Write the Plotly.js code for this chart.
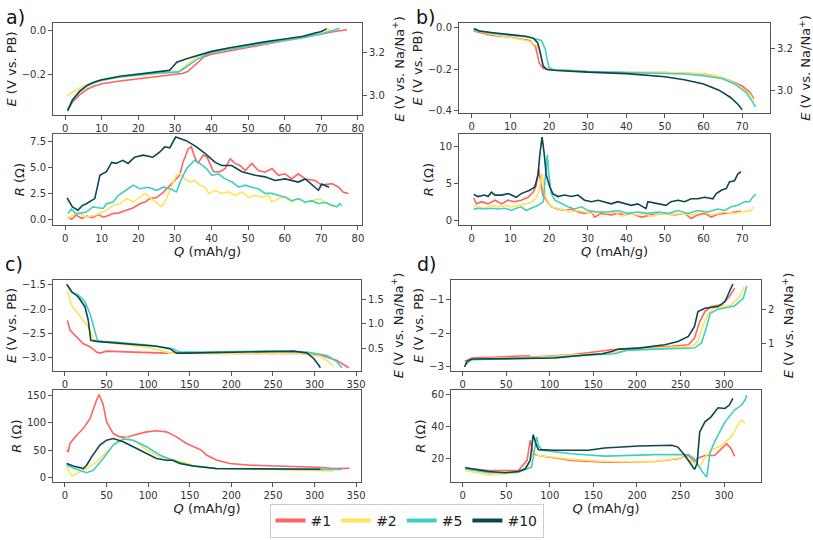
<!DOCTYPE html>
<html>
<head>
<meta charset="utf-8">
<script src="https://cdn.plot.ly/plotly-3.0.1.min.js"></script>
<style>html,body{margin:0;padding:0;background:#fff;}#chart{width:813px;height:540px;}</style>
</head>
<body>
<div id="chart"></div>
<script>
// ---------- data ----------
const seriesNames = ['#1', '#2', '#5', '#10'];
const seriesColors = ['#ff6361', '#ffe35a', '#3fcfc2', '#0c4650'];
const naOffset = 3.3;

// panel a, top: E vs PB
const aE_Q1 = [0.7,2,4,6,8,10,15,20,25,30,32,33.5,35,36.5,38,40,45,50,55,60,65,70,74,77];
const aE_1  = [-0.365,-0.33,-0.295,-0.27,-0.255,-0.245,-0.232,-0.222,-0.213,-0.202,-0.197,-0.188,-0.165,-0.14,-0.12,-0.108,-0.093,-0.078,-0.063,-0.048,-0.033,-0.015,-0.002,0.005];
const aE_Q2 = [0.5,3,5,8,10,15,20,28,31,33,36,40,45,50,55,60,65,70,72.5];
const aE_2  = [-0.3,-0.275,-0.255,-0.237,-0.227,-0.213,-0.205,-0.195,-0.19,-0.16,-0.12,-0.098,-0.082,-0.07,-0.058,-0.045,-0.033,-0.013,0.008];
const aE_Q5 = [0.7,2,4,6,8,10,15,20,25,29,31,32,34,36,38,40,45,50,55,60,65,70,73,75];
const aE_5  = [-0.365,-0.318,-0.278,-0.255,-0.24,-0.23,-0.213,-0.204,-0.196,-0.192,-0.19,-0.18,-0.155,-0.132,-0.115,-0.1,-0.085,-0.07,-0.057,-0.045,-0.032,-0.015,0.0,0.012];
const aE_Q10 = [0.7,2,4,6,8,10,15,20,25,28.5,29.5,30.5,33,36,40,45,50,55,60,65,68,70,71.5];
const aE_10  = [-0.37,-0.32,-0.28,-0.252,-0.237,-0.226,-0.21,-0.2,-0.19,-0.183,-0.165,-0.145,-0.13,-0.115,-0.095,-0.078,-0.063,-0.05,-0.038,-0.025,-0.012,-0.003,0.01];

// panel a, bottom: R
const aR_Q1 = [0.8,1.8,3,4.5,6,7.5,9,10.5,12,13,14.5,16.8,18.5,20.4,22,23.1,25,26.8,28.1,29.5,31.3,32.2,33.6,34.5,35.4,36.3,37.7,38.8,40.5,42.3,43.7,45.1,46.4,47.8,49.2,51,52.8,54.6,56.5,58.3,60.1,61.9,63.7,65.6,68.3,70.1,72.9,74.7,76,77.4];
const aR_1  = [0.2,0.0,0.4,0.1,0.3,0.15,0.45,0.2,0.4,0.55,0.6,0.87,1.1,1.5,1.7,2.0,2.1,2.6,3.1,3.6,4.25,5.5,6.8,7.0,6.0,5.4,6.2,6.0,4.6,4.6,4.9,5.85,5.4,5.2,4.7,5.4,4.7,4.55,4.9,4.25,4.4,3.9,4.4,3.9,3.75,3.3,3.45,3.1,2.6,2.5];
const aR_Q2 = [0.5,2,3.6,5.4,8.2,11.3,13.1,14.9,16.8,18.6,20.4,21.8,23.6,25.4,26.4,27.7,29,30.4,31.3,32.7,34.1,35.4,36.8,38.2,39.2,41,42.8,44.6,46.4,48.3,50.1,51.9,53.7,55.5,56.5,58.3,60.1,61.9,63.7,65.6,67.4,69.6,71.5,73.3];
const aR_2  = [0.05,0.4,0.7,0.2,0.4,0.87,1.35,1.5,2.0,1.67,2.15,2.5,2.0,1.5,1.2,2.0,3.1,4.25,4.4,3.9,3.6,3.75,3.3,3.1,2.5,2.8,2.5,2.65,2.3,2.65,2.15,2.3,2.15,2.3,1.67,2.0,2.15,1.67,2.0,1.67,1.8,2.0,1.5,1.2];
const aR_Q5 = [0.8,1.7,3,5.8,7.6,10.4,11.3,13.1,14.5,15.8,17.2,18.6,20.4,22.7,25,26.8,28.6,30.4,31.8,33.2,34.5,35.4,36.8,38.6,40.1,41.9,43.7,45.6,47.4,49.2,51,52.8,54.6,56.5,58.3,60.1,61.9,63.7,65.6,67.4,69.2,71,72.9,74.2,75.1,75.5];
const aR_5  = [0.55,1.0,0.5,0.7,1.2,1.05,1.5,1.67,2.3,2.65,2.95,3.3,2.95,3.1,2.8,3.1,2.95,2.65,3.9,4.9,5.4,5.7,5.4,4.9,4.25,4.4,3.9,3.6,3.1,3.3,3.1,2.95,2.5,2.5,2.3,2.15,1.8,2.0,1.65,1.8,1.5,1.65,1.35,1.2,1.5,1.3];
const aR_Q10 = [0.55,2,3.5,4.6,5.8,8.1,9,9.5,11.3,12.7,13.9,15.8,17.2,19,21.3,24,25.9,27.2,28.6,30.2,33.1,35.9,38.3,41,42.8,45.5,48.3,51.9,54.6,57.4,60.1,63.7,65.6,67.4,69.2,70.1,72.1];
const aR_10  = [2.06,1.2,0.87,1.3,1.5,2.0,3.4,4.25,4.6,5.5,5.4,5.7,5.4,6.0,6.2,6.0,6.5,7.0,6.9,7.95,7.6,7.0,6.35,5.5,5.2,5.2,4.6,4.25,4.1,3.75,3.9,3.6,3.9,3.3,2.8,3.4,3.1];

// panel b, top: E vs PB
const bE_Q1 = [0.5,5,10,15,16.5,17,17.5,18.5,20,30,40,50,60,64,67,70,72,73];
const bE_1  = [-0.015,-0.035,-0.045,-0.06,-0.09,-0.13,-0.17,-0.195,-0.2,-0.21,-0.215,-0.215,-0.222,-0.235,-0.255,-0.28,-0.31,-0.34];
const bE_Q2 = [0.5,5,10,15,17,18,18.5,19.5,30,40,50,60,64,67,70,72,73];
const bE_2  = [-0.01,-0.03,-0.045,-0.065,-0.09,-0.14,-0.18,-0.2,-0.21,-0.215,-0.215,-0.22,-0.235,-0.255,-0.29,-0.32,-0.35];
const bE_Q5 = [0.5,5,10,15,18,19,19.5,20,21,30,40,50,55,60,65,68,71,73.5];
const bE_5  = [-0.01,-0.025,-0.035,-0.045,-0.06,-0.1,-0.15,-0.19,-0.2,-0.21,-0.215,-0.22,-0.222,-0.23,-0.245,-0.27,-0.31,-0.38];
const bE_Q10 = [0.5,2,5,10,14,16,17,17.5,18,18.5,19.5,22,30,40,50,55,60,64,67,69,70];
const bE_10  = [-0.003,-0.015,-0.022,-0.03,-0.04,-0.05,-0.07,-0.1,-0.15,-0.185,-0.2,-0.205,-0.213,-0.22,-0.235,-0.25,-0.27,-0.3,-0.335,-0.37,-0.395];

// panel b, bottom: R
const bR_Q1 = [0.5,1.2,2.5,4.2,6,7.7,9.4,11.1,12.8,14.6,15.9,16.7,17.3,17.8,18.4,19.3,20.6,22.3,24,25.8,27.5,29.2,31,31.8,33.5,36.1,37.8,39.6,41.3,43.9,46.5,49.9,52.5,55.1,56.8,58.5,60.3,62,63.7,65.4,68,69.7];
const bR_1  = [3.0,2.2,2.5,2.2,2.7,2.2,2.7,2.5,2.7,3.1,3.8,4.7,7.0,5.2,3.4,2.7,1.8,1.5,1.3,1.5,1.1,0.9,1.1,0.4,0.9,0.7,0.9,0.7,0.9,0.4,0.7,0.9,0.7,0.9,0.2,0.7,0.9,0.4,0.8,0.9,1.1,1.2];
const bR_Q2 = [0.5,1.6,3.3,5.1,6.9,8.6,10.3,12,13.7,15.4,16.7,17.6,18.2,18.7,19.3,20.6,22.3,24,25.8,27.5,29.2,31,33.5,35.2,37,38.7,40.4,43,44.7,46.5,49.1,51.6,54.2,56.8,58.5,60.3,62,63.7,65.4,68,70.6,72.3,73];
const bR_2  = [1.9,1.8,1.6,2.0,1.8,2.0,1.8,2.0,2.2,2.4,3.0,4.3,6.3,4.5,2.9,1.8,1.6,1.3,1.1,1.3,1.1,0.9,1.1,0.9,1.1,0.5,0.9,0.7,0.9,0.5,0.9,0.7,0.9,0.7,0.9,1.1,0.7,0.9,1.1,0.9,1.1,1.3,1.8];
const bR_Q5 = [0.5,1.6,3.3,5.1,6.9,8.6,10.3,11.5,12.8,14.1,15.4,17.2,18.5,19,19.55,19.9,20.6,21.5,23.2,24.9,26.6,28.4,30.1,32.7,35.2,37.8,40.4,43,45.6,48.2,50.8,53.4,56,58.5,61.1,63.7,65.4,67.2,68.9,70.6,71.9,72.7,73.5];
const bR_5  = [1.45,1.6,1.5,1.6,1.5,1.6,1.3,1.6,1.8,1.3,1.6,2.0,2.5,5.2,8.9,6.5,3.6,2.7,2.2,1.8,1.5,1.8,1.3,1.1,1.1,1.3,0.9,1.1,0.9,1.1,0.9,1.3,0.9,1.3,1.1,1.5,1.3,1.8,2.0,2.5,2.5,3.1,3.5];
const bR_Q10 = [0.5,1.6,3.3,4.2,5.1,6,7.7,9.4,10.3,11.5,12.8,13.7,15,16.3,17.15,17.6,18.2,18.7,19.3,20.2,21,22.3,24,25.8,27.5,29.2,31,32.7,34.4,36.1,37.8,39.6,41.3,43,45.1,45.6,48.2,50.3,51.6,53.4,55.1,56.8,58.5,60.3,62.4,63.3,64.6,65.9,66.7,68,68.9,69.7];
const bR_10  = [3.5,3.2,3.4,3.2,3.8,3.4,3.4,3.6,3.4,3.1,3.6,3.8,4.05,4.5,6.1,8.8,11.3,9.3,6.1,4.5,3.6,3.2,3.4,3.2,3.4,2.7,2.5,2.7,2.5,2.2,2.5,2.2,2.0,2.2,1.55,2.5,2.2,2.0,2.5,2.7,2.5,2.9,2.9,3.1,2.9,3.6,4.05,4.3,5.2,5.35,6.3,6.6];

// panel c, top: E vs PB
const cE_Q1 = [3,6,14,22,30,38,42,50,82,122,202,283,307,327,341];
const cE_1  = [-2.23,-2.43,-2.57,-2.71,-2.77,-2.88,-2.9,-2.86,-2.88,-2.9,-2.91,-2.91,-2.94,-3.05,-3.2];
const cE_Q2 = [3,8,14,22,28,34,38,62,94,114,126,162,283,307,317,323];
const cE_2  = [-1.64,-1.92,-2.06,-2.23,-2.36,-2.6,-2.65,-2.71,-2.77,-2.84,-2.9,-2.9,-2.9,-2.97,-3.08,-3.18];
const cE_Q5 = [4,8,16,24,30,36,39,42,62,102,130,138,162,243,291,315,327,333];
const cE_5  = [-1.54,-1.66,-1.71,-1.85,-2.09,-2.43,-2.64,-2.66,-2.68,-2.74,-2.81,-2.88,-2.88,-2.86,-2.88,-2.95,-3.08,-3.2];
const cE_Q10 = [2,8,16,24,28,31,38,62,82,110,126,134,146,202,275,291,299,305,307];
const cE_10  = [-1.49,-1.64,-1.75,-1.95,-2.23,-2.64,-2.66,-2.69,-2.72,-2.76,-2.81,-2.9,-2.9,-2.88,-2.86,-2.9,-3.01,-3.15,-3.2];

// panel c, bottom: R
const cR_Q1 = [2,4,6,14,22,30,38,41,46,50,58,66,74,82,98,110,122,134,146,158,164,170,182,198,223,263,303,323,339,342];
const cR_1  = [50,47,62,77,89,107,141,151,132,101,80,74,73,77,83,85,83,74,62,53,50,41,32,25.5,22.5,20.6,18.8,16.4,16.4,17];
const cR_Q2 = [2,8,14,26,38,50,62,74,86,98,114,134,154,182,243,323];
const cR_2  = [19.4,3,7.3,16.4,28.5,47,65,72,65,50,37.7,31.6,22.5,15.2,14.6,12];
const cR_Q5 = [2,14,26,34,46,58,70,82,98,114,134,154,182,243,323,333];
const cR_5  = [22.5,15,9,13.4,34.6,59,70,68,56,41,28.5,21,16.4,15.2,14.6,14.6];
const cR_Q10 = [2,10,22,26,32,42,50,58,70,82,98,110,122,130,138,154,182,243,283,307];
const cR_10  = [25.5,21,16.4,22.5,37.7,59,68,71,65,56,45,34.6,31.6,31.6,25.5,21,16.4,15.2,15.2,15.2];

// panel d, top: E vs PB
const dE_Q1 = [2.3,10.7,75.6,79,125,171,202,240,259,266,272,278,285,297,306,312];
const dE_1  = [-2.85,-2.75,-2.68,-2.72,-2.65,-2.5,-2.45,-2.4,-2.35,-2.15,-1.65,-1.35,-1.2,-1.15,-0.9,-0.65];
const dE_Q2 = [3,10.7,87,144,171,186,221,263,270,276,282,289,308,318,323];
const dE_2  = [-2.9,-2.78,-2.72,-2.65,-2.6,-2.52,-2.45,-2.4,-2.25,-1.75,-1.4,-1.25,-1.15,-0.9,-0.6];
const dE_Q5 = [3,10.7,87,144,175,188,221,266,274,280,284,293,312,322,326];
const dE_5  = [-2.95,-2.8,-2.75,-2.68,-2.62,-2.52,-2.48,-2.45,-2.3,-1.8,-1.4,-1.28,-1.18,-0.95,-0.58];
const dE_Q10 = [2.3,5,10.7,49,106,144,160,171,179,202,232,247,259,266,270,278,293,301,306,310];
const dE_10  = [-3.02,-2.85,-2.78,-2.77,-2.75,-2.65,-2.62,-2.55,-2.48,-2.45,-2.35,-2.25,-2.1,-1.8,-1.35,-1.25,-1.2,-1.05,-0.75,-0.52];

// panel d, bottom: R
const dR_Q1 = [3,30,64,74,77.5,81,87,125,163,221,247,259,266,270,278,289,297,303,308,312];
const dR_1  = [14.2,12.7,12.7,19,31.4,23,22,19,17.9,18.3,20,22,18.3,20.4,22,22,26.2,29.3,26.2,21.4];
const dR_Q2 = [3,30,64,75.6,81,87,125,163,221,255,266,272,278,285,297,308,318,321,324];
const dR_2  = [12.7,10,11.3,15.8,24.1,22,19.6,18.3,18.3,21,16.9,14.8,21,25.2,28.3,33.5,42.8,43.8,41.8];
const dR_Q5 = [3,30,64,79,85,87,91,125,163,221,259,266,274,280,284,289,301,312,320,324,326];
const dR_5  = [13.8,11.3,11.7,14.8,33.5,28.3,25.2,23.1,21.6,22.5,22.5,20,12.7,8.6,24.1,30.4,42.8,50.1,53.2,56.3,59.4];
const dR_Q10 = [3,10.7,30,49,64,72,77.5,81,84,87,106,144,163,202,240,247,255,263,266,269,272,278,285,293,301,306,310];
const dR_10  = [14.4,13.8,12.1,11.3,12.1,13.8,19,34.9,29.3,25.6,25.2,25.2,26.6,27.9,28.3,27.2,22,15.8,13.4,16.9,36.6,42.8,45.9,51.5,51.1,53.2,57.3];

// ---------- build ----------
const panels = [
  {E: [[aE_Q1,aE_1],[aE_Q2,aE_2],[aE_Q5,aE_5],[aE_Q10,aE_10]], R: [[aR_Q1,aR_1],[aR_Q2,aR_2],[aR_Q5,aR_5],[aR_Q10,aR_10]]},
  {E: [[bE_Q1,bE_1],[bE_Q2,bE_2],[bE_Q5,bE_5],[bE_Q10,bE_10]], R: [[bR_Q1,bR_1],[bR_Q2,bR_2],[bR_Q5,bR_5],[bR_Q10,bR_10]]},
  {E: [[cE_Q1,cE_1],[cE_Q2,cE_2],[cE_Q5,cE_5],[cE_Q10,cE_10]], R: [[cR_Q1,cR_1],[cR_Q2,cR_2],[cR_Q5,cR_5],[cR_Q10,cR_10]]},
  {E: [[dE_Q1,dE_1],[dE_Q2,dE_2],[dE_Q5,dE_5],[dE_Q10,dE_10]], R: [[dR_Q1,dR_1],[dR_Q2,dR_2],[dR_Q5,dR_5],[dR_Q10,dR_10]]}
];

// layout geometry (pixels)
const W = 813, H = 540;
const boxes = [
  {top:[53,362,23,115], bot:[53,362,134,225]},
  {top:[459,770,23,113], bot:[459,770,134,225]},
  {top:[53,361,280,371], bot:[53,361,390,482]},
  {top:[451,761,280,371], bot:[451,761,390,482]}
];
const xRanges = [[-3.3,81.1],[-3.3,77.2],[-14.4,355.8],[-13.3,342.3]];
const xDt = [10,10,50,50];
const eRanges = [[-0.389,0.036],[-0.41,0.024],[-3.267,-1.403],[-3.14,-0.4]];
const eDt = [0.2,0.2,0.5,1];
const eFmt = ['.1f','.1f','.1f','d'];
const rRanges = [[-0.55,8.24],[-0.68,11.73],[-8,159.1],[5.6,62.5]];
const rDt = [2.5,5,50,20];
const rFmt = ['.1f','d','d','d'];
const naDt = [0.2,0.2,0.5,1];
const naFmt = ['.1f','.1f','.1f','d'];

const FONT = 'DejaVu Sans, sans-serif';
const axBase = {
  showline:true, mirror:true, linecolor:'#555', linewidth:1,
  ticks:'outside', ticklen:4, tickwidth:1, tickcolor:'#555',
  tickfont:{family:FONT, size:10, color:'#333'},
  showgrid:false, zeroline:false, fixedrange:true
};
const titleFont = {family:FONT, size:13, color:'#222'};

const traces = [];
const layout = {
  width:W, height:H, margin:{l:0,r:0,t:0,b:0},
  paper_bgcolor:'#fff', plot_bgcolor:'#fff',
  font:{family:FONT},
  showlegend:true,
  legend:{orientation:'h', x:0.5, xanchor:'center', y:1-504/540, yanchor:'top',
          bordercolor:'#ccc', borderwidth:1, font:{family:FONT, size:14, color:'#222'},
          itemwidth:30, tracegroupgap:0},
  annotations:[]
};
const dx = b => [b[0]/W, b[1]/W];
const dy = b => [1-b[3]/H, 1-b[2]/H];

panels.forEach((p, i) => {
  const nTop = 2*i+1, nBot = 2*i+2, nNa = 9+i;
  const xt = nTop===1 ? 'x' : 'x'+nTop, yt = nTop===1 ? 'y' : 'y'+nTop;
  const xb = 'x'+nBot, yb = 'y'+nBot, yn = 'y'+nNa;
  const lx = k => k===1 ? 'xaxis' : 'xaxis'+k;
  const ly = k => k===1 ? 'yaxis' : 'yaxis'+k;

  layout[lx(nTop)] = Object.assign({}, axBase, {domain:dx(boxes[i].top), anchor:yt, range:xRanges[i], dtick:xDt[i], tick0:0});
  layout[ly(nTop)] = Object.assign({}, axBase, {domain:dy(boxes[i].top), anchor:xt, range:eRanges[i], dtick:eDt[i], tick0:0, tickformat:eFmt[i],
      title:{text:'<i>E</i> (V vs. PB)', font:titleFont, standoff:2}});
  layout[ly(nNa)] = Object.assign({}, axBase, {overlaying:yt, side:'right', anchor:xt,
      range:[eRanges[i][0]+naOffset, eRanges[i][1]+naOffset], dtick:naDt[i], tick0:0, tickformat:naFmt[i],
      title:{text:'<i>E</i> (V vs. Na/Na<sup>+</sup>)', font:titleFont, standoff:10}});
  layout[lx(nBot)] = Object.assign({}, axBase, {domain:dx(boxes[i].bot), anchor:yb, range:xRanges[i], dtick:xDt[i], tick0:0,
      title:{text:'<i>Q</i> (mAh/g)', font:titleFont, standoff:0}});
  layout[ly(nBot)] = Object.assign({}, axBase, {domain:dy(boxes[i].bot), anchor:xb, range:rRanges[i], dtick:rDt[i], tick0:0, tickformat:rFmt[i],
      title:{text:'<i>R</i> (Ω)', font:titleFont, standoff:2}});

  p.E.forEach((s, k) => traces.push({x:s[0], y:s[1], xaxis:xt, yaxis:yt, mode:'lines', showlegend:false,
      line:{color:seriesColors[k], width:1.6}, hoverinfo:'skip'}));
  p.R.forEach((s, k) => traces.push({x:s[0], y:s[1], xaxis:xb, yaxis:yb, mode:'lines', showlegend:false,
      line:{color:seriesColors[k], width:1.6}, hoverinfo:'skip'}));
  // trace on the right (Na/Na+) axis: same E data shifted by offset
  traces.push({x:p.E[3][0], y:p.E[3][1].map(v => v+naOffset), xaxis:xt, yaxis:yn, mode:'lines', showlegend:false,
      line:{color:seriesColors[3], width:1.6}, opacity:0, hoverinfo:'skip'});
});

// legend entries
seriesNames.forEach((n, k) => traces.push({x:[null], y:[null], xaxis:'x', yaxis:'y', mode:'lines', name:n,
    line:{color:seriesColors[k], width:4}}));

// panel labels
[['a)',15,17],['b)',425,17],['c)',14,264],['d)',426,264]].forEach(l => layout.annotations.push({
  text:l[0], x:l[1]/W, y:1-l[2]/H, xref:'paper', yref:'paper', showarrow:false,
  xanchor:'center', yanchor:'middle', font:{family:FONT, size:19, color:'#111'}}));

Plotly.newPlot('chart', traces, layout, {staticPlot:true, displayModeBar:false});
</script>
</body>
</html>
